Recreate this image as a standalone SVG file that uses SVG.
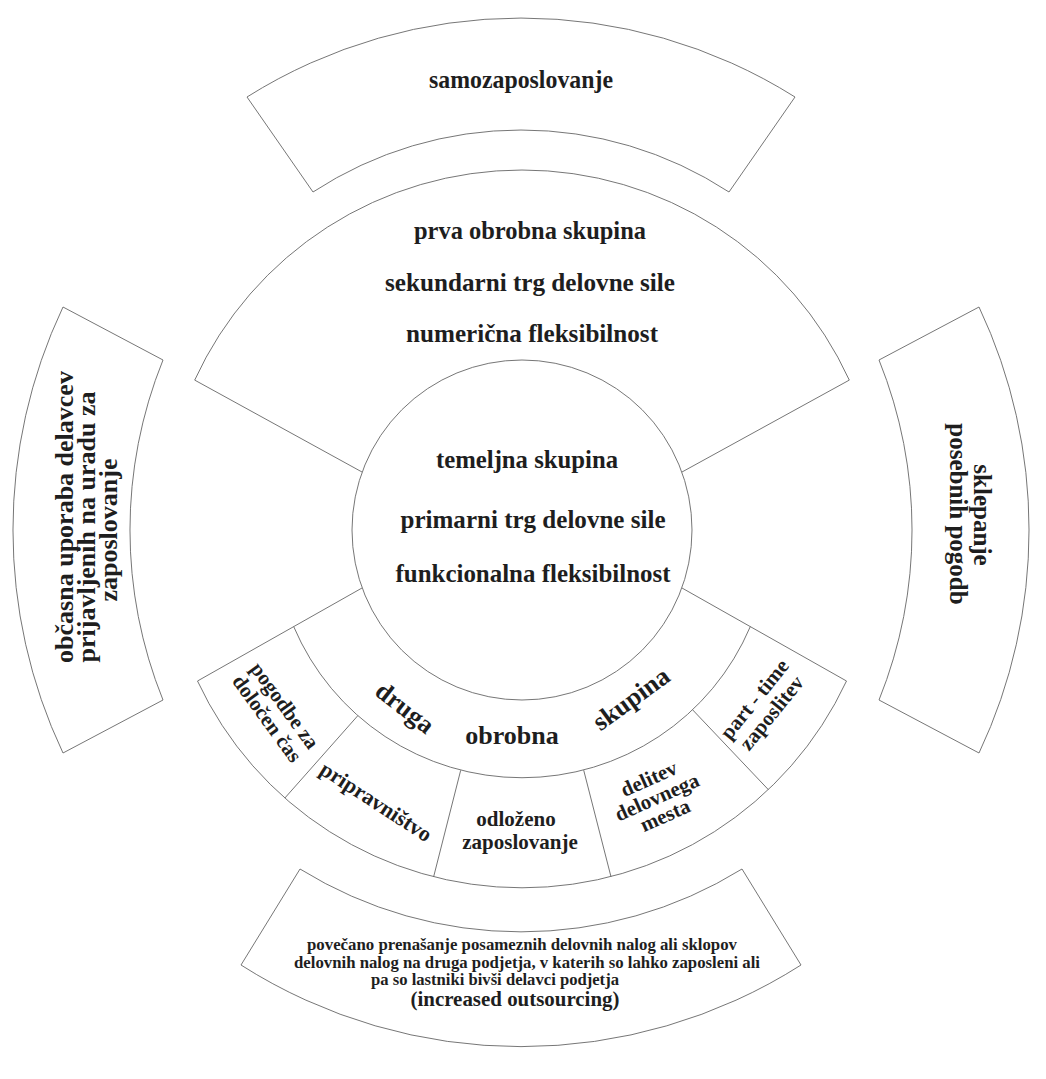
<svg xmlns="http://www.w3.org/2000/svg" width="1046" height="1079" viewBox="0 0 1046 1079">
  <style>
    .shape { fill: none; stroke: #666; stroke-width: 0.9; }
    .lbl { font-family: "Liberation Serif", "Times New Roman", serif; font-weight: bold; fill: #1e1e1e; text-anchor: middle; }
    .big { font-size: 26px; }
    .mid { font-size: 21px; }
    .small { font-size: 17px; }
  </style>
  <rect x="0" y="0" width="1046" height="1079" fill="#ffffff"/>

  <!-- outer boxes -->
  <g id="samozaposlovanje">
    <path class="shape" d="M 247 97 A 515 515 0 0 1 795 97 L 729 192 A 380 380 0 0 0 313 192 Z"/>
    <text class="lbl big" x="521" y="88" textLength="184" lengthAdjust="spacingAndGlyphs">samozaposlovanje</text>
  </g>

  <g id="obcasna-uporaba">
    <path class="shape" d="M 63 307 L 163 360 A 454 454 0 0 0 163 700 L 63 753 A 522 522 0 0 1 63 307 Z"/>
    <text class="lbl big" transform="translate(73,517) rotate(-90)">občasna uporaba delavcev</text>
    <text class="lbl big" transform="translate(95,527) rotate(-90)">prijavljenih na uradu za</text>
    <text class="lbl big" transform="translate(117,530) rotate(-90)">zaposlovanje</text>
  </g>

  <g id="sklepanje-pogodb">
    <path class="shape" d="M 979 307 L 879 360 A 454 454 0 0 1 879 700 L 979 753 A 522 522 0 0 0 979 307 Z"/>
    <text class="lbl" style="font-size:25px" transform="translate(974,515) rotate(90)">sklepanje</text>
    <text class="lbl" style="font-size:25px" transform="translate(950,514) rotate(90)">posebnih pogodb</text>
  </g>

  <g id="outsourcing">
    <path class="shape" d="M 300 869 A 420 420 0 0 0 742 869 L 801 965 A 521 521 0 0 1 241 965 Z"/>
    <text class="lbl small" x="522" y="950" textLength="430" lengthAdjust="spacingAndGlyphs">povečano prenašanje posameznih delovnih nalog ali sklopov</text>
    <text class="lbl small" x="527" y="968" textLength="466" lengthAdjust="spacingAndGlyphs">delovnih nalog na druga podjetja, v katerih so lahko zaposleni ali</text>
    <text class="lbl small" x="495" y="985" textLength="248" lengthAdjust="spacingAndGlyphs">pa so lastniki bivši delavci podjetja</text>
    <text class="lbl" style="font-size:21px" x="515" y="1006" textLength="209" lengthAdjust="spacingAndGlyphs">(increased outsourcing)</text>
  </g>

  <!-- middle ring -->
  <g id="prva-obrobna-skupina">
    <path class="shape" d="M 362 472 L 194.7 380.1 A 360 360 0 0 1 849.3 380.1 L 682 472"/>
    <text class="lbl big" x="530" y="239" textLength="232" lengthAdjust="spacingAndGlyphs">prva obrobna skupina</text>
    <text class="lbl big" x="530" y="291" textLength="290" lengthAdjust="spacingAndGlyphs">sekundarni trg delovne sile</text>
    <text class="lbl big" x="532" y="342" textLength="252" lengthAdjust="spacingAndGlyphs">numerična fleksibilnost</text>
  </g>

  <g id="druga-obrobna-skupina">
    <path class="shape" d="M 362 588 L 197.5 681 A 358 358 0 0 0 846.5 681 L 682 588"/>
    <path class="shape" d="M 293.7 626.6 A 248 248 0 0 0 750.3 626.6"/>
    <text class="lbl big" transform="translate(404,709) rotate(38)" y="7">druga</text>
    <text class="lbl big" x="512" y="744">obrobna</text>
    <text class="lbl big" transform="translate(632,700) rotate(-36)" y="7">skupina</text>
  </g>

  <g id="temeljna-skupina">
    <circle class="shape" cx="522" cy="530" r="170"/>
    <text class="lbl big" x="527" y="468" textLength="182" lengthAdjust="spacingAndGlyphs">temeljna skupina</text>
    <text class="lbl big" x="533" y="528" textLength="265" lengthAdjust="spacingAndGlyphs">primarni trg delovne sile</text>
    <text class="lbl big" x="533" y="582" textLength="275" lengthAdjust="spacingAndGlyphs">funkcionalna fleksibilnost</text>
  </g>

  <!-- dividers of the lower ring -->
  <g id="connectors">
    <line class="shape" x1="357.7" y1="715.8" x2="284.8" y2="798.1"/>
    <line class="shape" x1="460.7" y1="770.3" x2="433.6" y2="876.9"/>
    <line class="shape" x1="583.7" y1="770.2" x2="611.0" y2="876.8"/>
    <line class="shape" x1="692.7" y1="709.9" x2="768.4" y2="789.7"/>
  </g>

  <g id="pogodbe-za-dolocen-cas">
    <text class="lbl mid" transform="translate(276,712) rotate(54)" y="-4">pogodbe za</text>
    <text class="lbl mid" transform="translate(276,712) rotate(54)" y="18">določen čas</text>
  </g>

  <g id="pripravnistvo">
    <text class="lbl" style="font-size:22px" transform="translate(376,802) rotate(33)" y="7">pripravništvo</text>
  </g>

  <g id="odlozeno-zaposlovanje">
    <text class="lbl mid" x="516" y="826">odloženo</text>
    <text class="lbl mid" x="520" y="849">zaposlovanje</text>
  </g>

  <g id="delitev-delovnega-mesta">
    <text class="lbl mid" transform="translate(657,797) rotate(-24)" y="-13">delitev</text>
    <text class="lbl mid" transform="translate(657,797) rotate(-24)" y="7">delovnega</text>
    <text class="lbl mid" transform="translate(657,797) rotate(-24)" y="27">mesta</text>
  </g>

  <g id="part-time-zaposlitev">
    <text class="lbl mid" transform="translate(763,706) rotate(-51)" y="-4">part - time</text>
    <text class="lbl mid" transform="translate(763,706) rotate(-51)" y="18">zaposlitev</text>
  </g>
</svg>
